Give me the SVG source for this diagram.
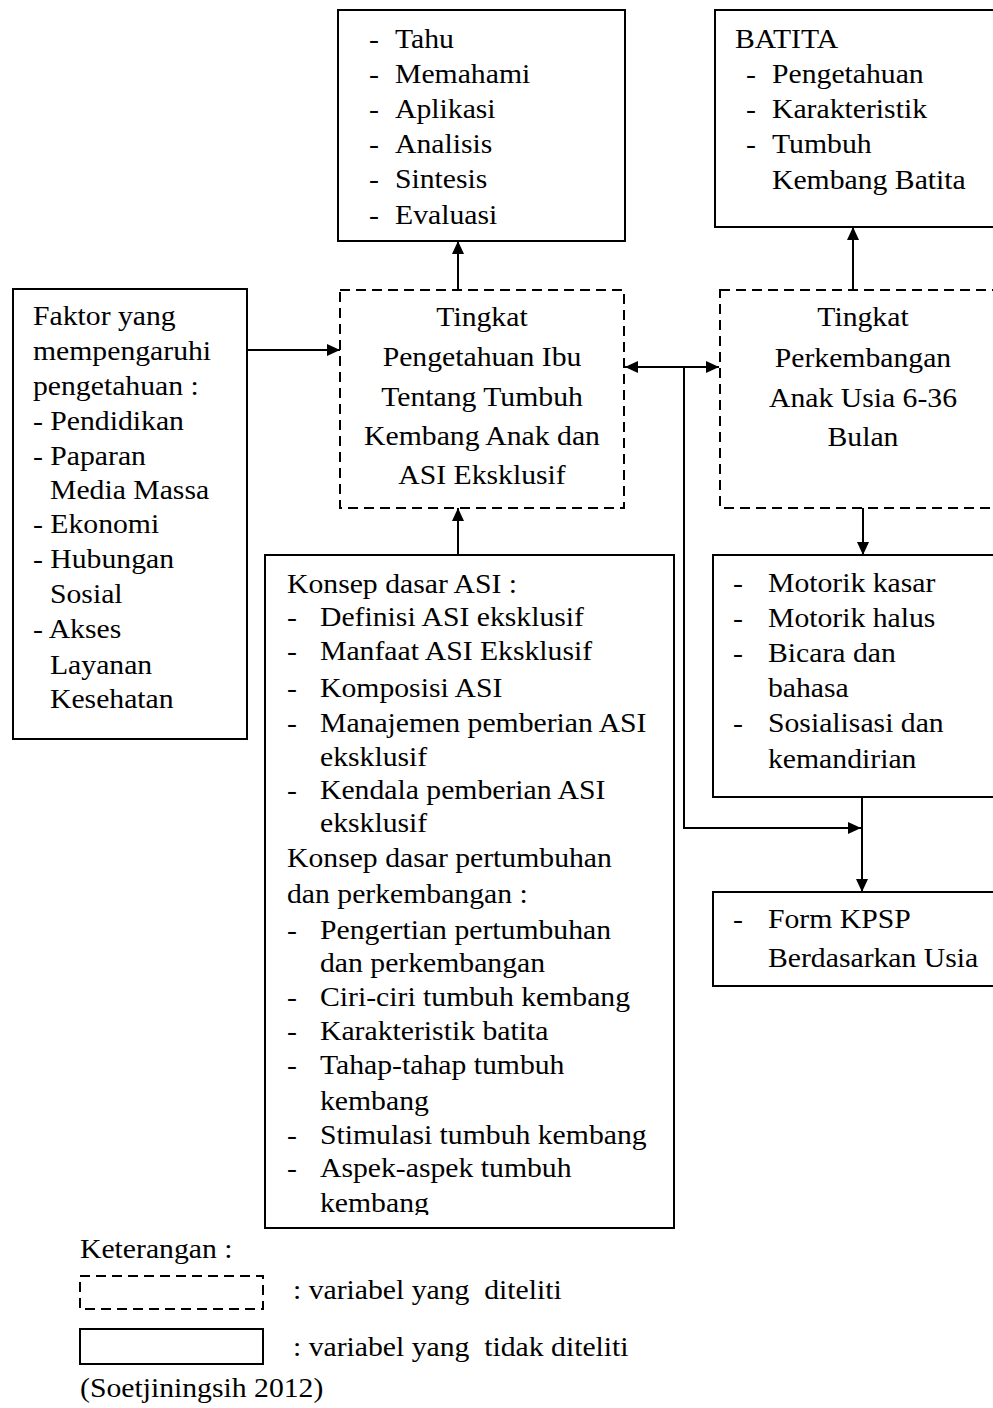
<svg xmlns="http://www.w3.org/2000/svg" width="993" height="1408" viewBox="0 0 993 1408">
<style>
text{font-family:"Liberation Serif","Times New Roman",serif;font-size:27px;fill:#000;transform-box:fill-box;transform-origin:0% 100%;transform:scaleX(1.1)}
text.c{text-anchor:middle;transform-origin:50% 100%}
text.pre{white-space:pre}
.box{fill:none;stroke:#000;stroke-width:2}
.dash{fill:none;stroke:#000;stroke-width:2;stroke-dasharray:10 6}
.conn{fill:none;stroke:#000;stroke-width:2}
</style>
<defs>
<marker id="ah" viewBox="0 0 13 12" refX="13" refY="6" markerWidth="13" markerHeight="12" markerUnits="userSpaceOnUse" orient="auto-start-reverse">
<path d="M0,0 L13,6 L0,12 Z" fill="#000"/>
</marker>
<clipPath id="kclip"><rect x="265" y="555" width="409" height="660"/></clipPath>
</defs>
<rect width="993" height="1408" fill="#fff"/>

<g id="tahu">
<rect class="box" x="338" y="10" width="287" height="231"/>
<text x="369" y="48">-</text><text x="395" y="48">Tahu</text>
<text x="369" y="83">-</text><text x="395" y="83">Memahami</text>
<text x="369" y="118">-</text><text x="395" y="118">Aplikasi</text>
<text x="369" y="153">-</text><text x="395" y="153">Analisis</text>
<text x="369" y="188">-</text><text x="395" y="188">Sintesis</text>
<text x="369" y="224">-</text><text x="395" y="224">Evaluasi</text>
</g>

<g id="batita">
<rect class="box" x="715" y="10" width="300" height="217"/>
<text x="735" y="48">BATITA</text>
<text x="746" y="83">-</text><text x="772" y="83">Pengetahuan</text>
<text x="746" y="118">-</text><text x="772" y="118">Karakteristik</text>
<text x="746" y="153">-</text><text x="772" y="153">Tumbuh</text>
<text x="772" y="189">Kembang Batita</text>
</g>

<g id="faktor">
<rect class="box" x="13" y="289" width="234" height="450"/>
<text x="33" y="325">Faktor yang</text>
<text x="33" y="360">mempengaruhi</text>
<text x="33" y="395">pengetahuan :</text>
<text x="33" y="430">- Pendidikan</text>
<text x="33" y="465">- Paparan</text>
<text x="50" y="499">Media Massa</text>
<text x="33" y="533">- Ekonomi</text>
<text x="33" y="568">- Hubungan</text>
<text x="50" y="603">Sosial</text>
<text x="33" y="638">- Akses</text>
<text x="50" y="674">Layanan</text>
<text x="50" y="708">Kesehatan</text>
</g>

<g id="pengetahuan">
<rect class="dash" x="340" y="290" width="284" height="218"/>
<text class="c" x="482" y="326">Tingkat</text>
<text class="c" x="482" y="366">Pengetahuan Ibu</text>
<text class="c" x="482" y="406">Tentang Tumbuh</text>
<text class="c" x="482" y="445">Kembang Anak dan</text>
<text class="c" x="482" y="484">ASI Eksklusif</text>
</g>

<g id="perkembangan">
<rect class="dash" x="720" y="290" width="290" height="218"/>
<text class="c" x="863" y="326">Tingkat</text>
<text class="c" x="863" y="367">Perkembangan</text>
<text class="c" x="863" y="407">Anak Usia 6-36</text>
<text class="c" x="863" y="446">Bulan</text>
</g>

<g id="motorik">
<rect class="box" x="713" y="555" width="300" height="242"/>
<text x="733" y="592">-</text><text x="768" y="592">Motorik kasar</text>
<text x="733" y="627">-</text><text x="768" y="627">Motorik halus</text>
<text x="733" y="662">-</text><text x="768" y="662">Bicara dan</text>
<text x="768" y="697">bahasa</text>
<text x="733" y="732">-</text><text x="768" y="732">Sosialisasi dan</text>
<text x="768" y="768">kemandirian</text>
</g>

<g id="kpsp">
<rect class="box" x="713" y="892" width="300" height="94"/>
<text x="733" y="928">-</text><text x="768" y="928">Form KPSP</text>
<text x="768" y="967">Berdasarkan Usia</text>
</g>

<g id="konsep">
<rect class="box" x="265" y="555" width="409" height="673"/>
<g clip-path="url(#kclip)">
<text x="287" y="593">Konsep dasar ASI :</text>
<text x="287" y="626">-</text><text x="320" y="626">Definisi ASI eksklusif</text>
<text x="287" y="660">-</text><text x="320" y="660">Manfaat ASI Eksklusif</text>
<text x="287" y="697">-</text><text x="320" y="697">Komposisi ASI</text>
<text x="287" y="732">-</text><text x="320" y="732">Manajemen pemberian ASI</text>
<text x="320" y="766">eksklusif</text>
<text x="287" y="799">-</text><text x="320" y="799">Kendala pemberian ASI</text>
<text x="320" y="832">eksklusif</text>
<text x="287" y="867">Konsep dasar pertumbuhan</text>
<text x="287" y="903">dan perkembangan :</text>
<text x="287" y="939">-</text><text x="320" y="939">Pengertian pertumbuhan</text>
<text x="320" y="972">dan perkembangan</text>
<text x="287" y="1006">-</text><text x="320" y="1006">Ciri-ciri tumbuh kembang</text>
<text x="287" y="1040">-</text><text x="320" y="1040">Karakteristik batita</text>
<text x="287" y="1074">-</text><text x="320" y="1074">Tahap-tahap tumbuh</text>
<text x="320" y="1110">kembang</text>
<text x="287" y="1144">-</text><text x="320" y="1144">Stimulasi tumbuh kembang</text>
<text x="287" y="1177">-</text><text x="320" y="1177">Aspek-aspek tumbuh</text>
<text x="320" y="1212">kembang</text>
</g>
</g>

<g id="connectors">
<line class="conn" x1="458" y1="290" x2="458" y2="241" marker-end="url(#ah)"/>
<line class="conn" x1="853" y1="290" x2="853" y2="227" marker-end="url(#ah)"/>
<line class="conn" x1="247" y1="350" x2="340" y2="350" marker-end="url(#ah)"/>
<line class="conn" x1="458" y1="555" x2="458" y2="508" marker-end="url(#ah)"/>
<line class="conn" x1="625" y1="367" x2="719" y2="367" marker-start="url(#ah)" marker-end="url(#ah)"/>
<polyline class="conn" points="684,367 684,828 861,828" marker-end="url(#ah)"/>
<line class="conn" x1="863" y1="508" x2="863" y2="555" marker-end="url(#ah)"/>
<line class="conn" x1="862" y1="797" x2="862" y2="892" marker-end="url(#ah)"/>
</g>

<g id="legend">
<text x="80" y="1258">Keterangan :</text>
<rect class="dash" x="80" y="1276" width="183" height="33"/>
<text class="pre" x="293" y="1299">: variabel yang  diteliti</text>
<rect class="box" x="80" y="1329" width="183" height="35"/>
<text class="pre" x="293" y="1356">: variabel yang  tidak diteliti</text>
<text x="80" y="1397">(Soetjiningsih 2012)</text>
</g>
</svg>
